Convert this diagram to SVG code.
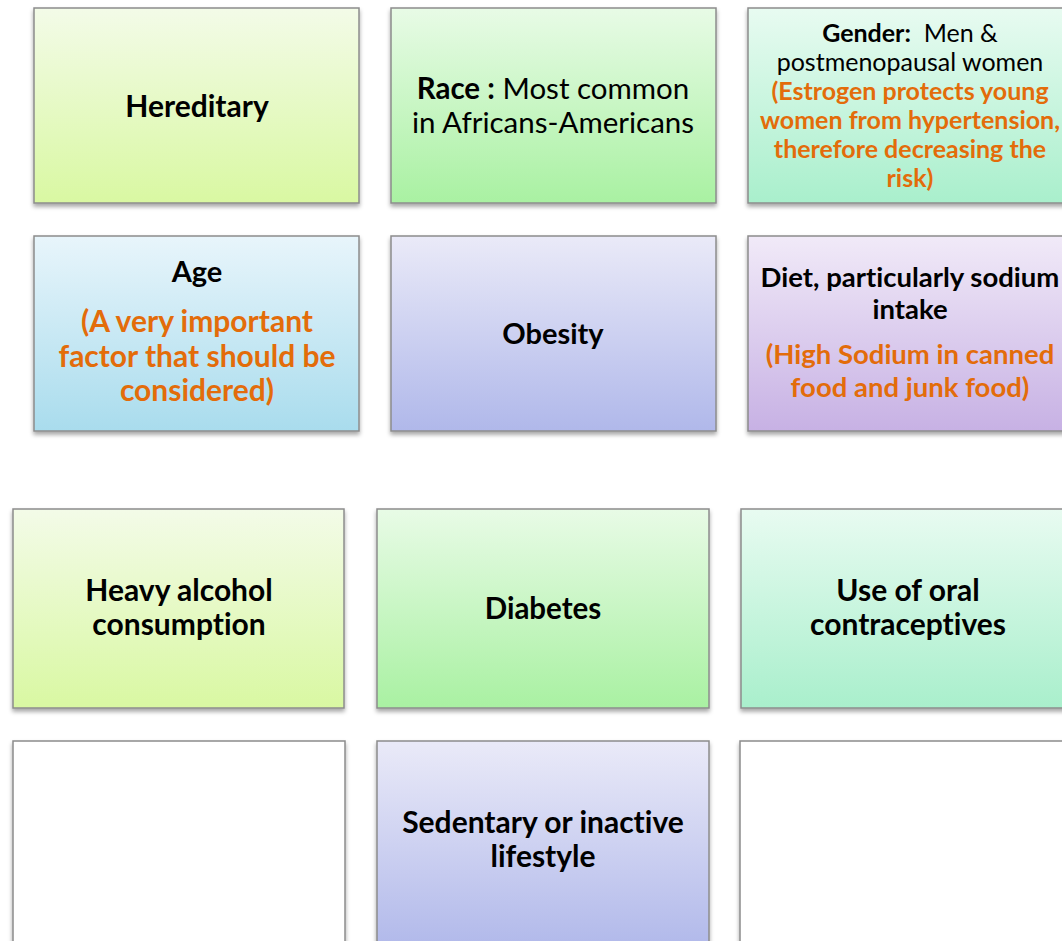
<svg xmlns="http://www.w3.org/2000/svg" width="1062" height="941" viewBox="0 0 1062 941">
<style>
.box{stroke:#8c8c8c;stroke-width:1.5}
.t{font-family:Lato,"Open Sans","Liberation Sans",sans-serif;text-anchor:middle;fill:#000;font-variant-ligatures:none}
.b{font-weight:bold}
.o{fill:#e36c0a;font-weight:bold}
</style>
<defs>
<filter id="sh" x="-5%" y="-5%" width="110%" height="115%">
<feDropShadow dx="0" dy="3" stdDeviation="2" flood-color="#000" flood-opacity="0.35"/>
</filter>
<linearGradient id="gy" x1="0" y1="0" x2="0" y2="1"><stop offset="0" stop-color="#f3fbe8"/><stop offset="1" stop-color="#d9f8a2"/></linearGradient>
<linearGradient id="gg" x1="0" y1="0" x2="0" y2="1"><stop offset="0" stop-color="#e8fbe6"/><stop offset="1" stop-color="#a9f1a2"/></linearGradient>
<linearGradient id="gm" x1="0" y1="0" x2="0" y2="1"><stop offset="0" stop-color="#e8fbf1"/><stop offset="1" stop-color="#a9efcc"/></linearGradient>
<linearGradient id="gb" x1="0" y1="0" x2="0" y2="1"><stop offset="0" stop-color="#e8f5fb"/><stop offset="1" stop-color="#a9dced"/></linearGradient>
<linearGradient id="gl" x1="0" y1="0" x2="0" y2="1"><stop offset="0" stop-color="#eaeaf8"/><stop offset="1" stop-color="#b0b8ea"/></linearGradient>
<linearGradient id="gp" x1="0" y1="0" x2="0" y2="1"><stop offset="0" stop-color="#f1eaf8"/><stop offset="1" stop-color="#c7b1e4"/></linearGradient>
</defs>
<rect width="1062" height="941" fill="#fff"/>
<g id="connectors"/>
<g id="hereditary">
<rect class="box" x="34" y="8" width="325" height="195" fill="url(#gy)" filter="url(#sh)"/>
<text class="t b" x="197" y="117" font-size="30">Hereditary</text>
</g>
<g id="race">
<rect class="box" x="391" y="8" width="325" height="195" fill="url(#gg)" filter="url(#sh)"/>
<text class="t" x="553" y="99" font-size="29.5"><tspan class="b">Race :</tspan> Most common</text>
<text class="t" x="553" y="133" font-size="29.5">in Africans-Americans</text>
</g>
<g id="gender">
<rect class="box" x="748" y="8" width="330" height="195" fill="url(#gm)" filter="url(#sh)"/>
<text class="t" x="910" y="42" font-size="25"><tspan class="b">Gender:</tspan>&#160; Men &amp;</text>
<text class="t" x="910" y="71" font-size="25">postmenopausal women</text>
<text class="t o" x="910" y="100" font-size="25">(Estrogen protects young</text>
<text class="t o" x="910" y="129" font-size="25">women from hypertension,</text>
<text class="t o" x="910" y="158" font-size="25">therefore decreasing the</text>
<text class="t o" x="910" y="187" font-size="25">risk)</text>
</g>
<g id="age">
<rect class="box" x="34" y="236" width="325" height="195" fill="url(#gb)" filter="url(#sh)"/>
<text class="t b" x="197" y="282" font-size="29">Age</text>
<text class="t o" x="197" y="332" font-size="30">(A very important</text>
<text class="t o" x="197" y="367" font-size="30">factor that should be</text>
<text class="t o" x="197" y="401" font-size="30">considered)</text>
</g>
<g id="obesity">
<rect class="box" x="391" y="236" width="325" height="195" fill="url(#gl)" filter="url(#sh)"/>
<text class="t b" x="553" y="344" font-size="29">Obesity</text>
</g>
<g id="diet">
<rect class="box" x="748" y="236" width="330" height="195" fill="url(#gp)" filter="url(#sh)"/>
<text class="t b" x="910" y="287" font-size="27.5">Diet, particularly sodium</text>
<text class="t b" x="910" y="319" font-size="27.5">intake</text>
<text class="t o" x="910" y="364" font-size="27.5">(High Sodium in canned</text>
<text class="t o" x="910" y="397" font-size="27.5">food and junk food)</text>
</g>
<g id="alcohol">
<rect class="box" x="13" y="509" width="331" height="199" fill="url(#gy)" filter="url(#sh)"/>
<text class="t b" x="179" y="601" font-size="30">Heavy alcohol</text>
<text class="t b" x="179" y="635" font-size="30">consumption</text>
</g>
<g id="diabetes">
<rect class="box" x="377" y="509" width="332" height="199" fill="url(#gg)" filter="url(#sh)"/>
<text class="t b" x="543" y="619" font-size="29.5">Diabetes</text>
</g>
<g id="oral">
<rect class="box" x="741" y="509" width="340" height="199" fill="url(#gm)" filter="url(#sh)"/>
<text class="t b" x="908" y="601" font-size="30">Use of oral</text>
<text class="t b" x="908" y="635" font-size="30">contraceptives</text>
</g>
<g id="blank-left">
<rect class="box" x="13" y="741" width="332" height="210" fill="#fff" stroke-width="3" filter="url(#sh)"/>
</g>
<g id="sedentary">
<rect class="box" x="377" y="741" width="332" height="210" fill="url(#gl)" filter="url(#sh)"/>
<text class="t b" x="543" y="833" font-size="30">Sedentary or inactive</text>
<text class="t b" x="543" y="867" font-size="30">lifestyle</text>
</g>
<g id="blank-right">
<rect class="box" x="740" y="741" width="340" height="210" fill="#fff" stroke-width="3" filter="url(#sh)"/>
</g>
</svg>
